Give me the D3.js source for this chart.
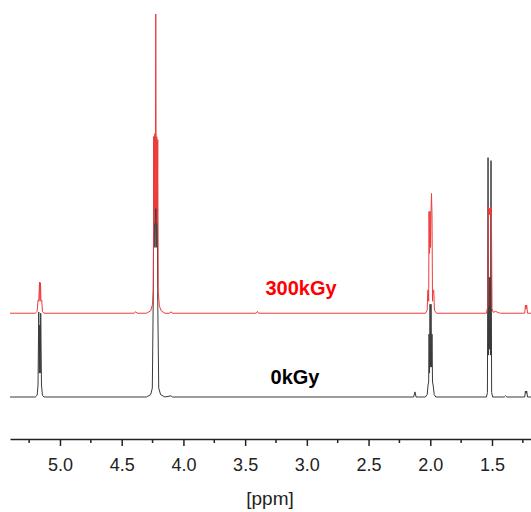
<!DOCTYPE html>
<html>
<head>
<meta charset="utf-8">
<script src="https://cdn.jsdelivr.net/npm/d3@7"></script>
<style>
  body { margin: 0; background: #fff; }
  svg { display: block; font-family: "Liberation Sans", Arial, sans-serif; }
</style>
</head>
<body>
<svg id="chart" width="531" height="512"></svg>
<script>
// spectra as [ppm, intensity] (intensity relative to own baseline)
let black_points = [
    [5.405, 0], [5.20, 0], [5.185, 0.6], [5.178, 4], [5.172, 28.4], [5.168, 8], [5.164, 24],
    [5.160, 8], [5.156, 28], [5.150, 4], [5.142, 0.6], [5.13, 0],
    [4.30, 0], [4.265, 0.8], [4.252, 3], [4.244, 35], [4.238, 87], [4.232, 50], [4.226, 66],
    [4.220, 50], [4.214, 85], [4.208, 32], [4.200, 3], [4.185, 0.8], [4.15, 0],
    [4.10, 0.4], [4.09, 0],
    [2.135, 0], [2.124, 1.7], [2.115, 0],
    [2.04, 0], [2.025, 0.8], [2.018, 4], [2.013, 5], [2.010, 21], [2.006, 8], [2.002, 31],
    [1.998, 10], [1.994, 31], [1.990, 10], [1.986, 21], [1.982, 5], [1.977, 4], [1.968, 0.8], [1.955, 0],
    [1.545, 0], [1.537, 1.5], [1.532, 80], [1.528, 14], [1.524, 40], [1.520, 16], [1.516, 40],
    [1.512, 14], [1.508, 79], [1.503, 1.5], [1.495, 0],
    [1.40, 0], [1.39, 0.4], [1.38, 0],
    [1.235, 0], [1.229, 2], [1.224, 1.2], [1.219, 2], [1.212, 0], [1.184, 0]
];

let red_points = [
    [5.405, 0], [5.20, 0], [5.185, 0.6], [5.178, 4.3], [5.172, 4.0], [5.166, 10.4], [5.162, 4.2],
    [5.158, 10.2], [5.154, 4.0], [5.148, 4.3], [5.142, 0.6], [5.13, 0],
    [4.40, 0], [4.385, 0.5], [4.375, 0],
    [4.30, 0], [4.265, 0.8], [4.250, 3], [4.244, 8], [4.240, 59], [4.236, 30], [4.232, 60],
    [4.228, 35], [4.224, 100], [4.220, 35], [4.216, 59], [4.212, 30], [4.208, 58], [4.204, 7],
    [4.195, 2.5], [4.180, 0.8], [4.15, 0],
    [4.11, 0], [4.10, 0.5], [4.09, 0],
    [3.41, 0], [3.40, 0.6], [3.39, 0],
    [2.04, 0], [2.025, 1], [2.020, 7.7], [2.016, 7.7], [2.013, 4], [2.010, 34], [2.006, 20],
    [2.002, 34], [1.998, 22], [1.994, 34], [1.990, 40], [1.986, 33], [1.982, 4], [1.978, 7.7],
    [1.972, 7.7], [1.966, 1], [1.95, 0],
    [1.545, 0], [1.538, 1.5], [1.533, 2.5], [1.529, 35.5], [1.526, 33], [1.523, 35],
    [1.520, 33], [1.517, 35], [1.514, 33], [1.511, 35], [1.508, 33], [1.505, 35.5],
    [1.500, 1.5], [1.49, 0.3], [1.47, 0.6], [1.45, 0.2], [1.43, 0],
    [1.235, 0], [1.229, 2.7], [1.224, 1.5], [1.219, 2.7], [1.212, 0], [1.184, 0]
];

let trace_offsets = [0, 28];
let trace_colors = ['#3a3a3a', '#ef3b3b'];
let trace_labels = ['0kGy', '300kGy'];
let label_colors = ['#000000', '#ff0000'];
let label_ppm = [3.096, 3.047];

let tick_values = [5.0, 4.5, 4.0, 3.5, 3.0, 2.5, 2.0, 1.5];
let minor_values = [5.25, 4.75, 4.25, 3.75, 3.25, 2.75, 2.25, 1.75, 1.25];
let x_title = '[ppm]';

let svg = d3.select('#chart');

let x_range = d3.scaleLinear()
    .domain([5.405, 1.184])
    .range([10, 531]);

let y_range = d3.scaleLinear()
    .domain([0, 128])
    .range([397, 14]);

let spectra = [black_points, red_points];

spectra.forEach(function (points, i) {
    let line = d3.line()
        .x(function (d) { return x_range(d[0]); })
        .y(function (d) { return y_range(d[1] + trace_offsets[i]); });
    svg.append('path')
        .datum(points)
        .attr('d', line)
        .attr('fill', 'none')
        .attr('stroke', trace_colors[i])
        .attr('stroke-width', 1);
});

// labels above each trace
trace_labels.forEach(function (t, i) {
    svg.append('text')
        .attr('x', x_range(label_ppm[i]))
        .attr('y', y_range(trace_offsets[i]) + (i == 0 ? -13 : -18))
        .attr('text-anchor', 'middle')
        .attr('font-size', 20)
        .attr('font-weight', 'bold')
        .attr('fill', label_colors[i])
        .text(t);
});

// x axis
let axis_y = 439;
let axis = d3.axisBottom(x_range)
    .tickValues(tick_values)
    .tickFormat(d3.format('.1f'))
    .tickSize(7)
    .tickSizeOuter(0)
    .tickPadding(12);

let ax = svg.append('g')
    .attr('transform', 'translate(0,' + axis_y + ')')
    .call(axis);

ax.select('.domain').attr('stroke', '#222').attr('stroke-width', 1.5);
ax.selectAll('.tick line').attr('stroke', '#222').attr('stroke-width', 1.5);
ax.selectAll('.tick text')
    .attr('font-size', 18)
    .attr('font-family', '"Liberation Sans", Arial, sans-serif')
    .attr('fill', '#222');

svg.append('g')
    .attr('transform', 'translate(0,' + axis_y + ')')
    .selectAll('line')
    .data(minor_values)
    .enter().append('line')
    .attr('x1', function (d) { return x_range(d); })
    .attr('x2', function (d) { return x_range(d); })
    .attr('y1', 0)
    .attr('y2', 4)
    .attr('stroke', '#222')
    .attr('stroke-width', 1.5);

svg.append('text')
    .attr('x', 270)
    .attr('y', 505)
    .attr('text-anchor', 'middle')
    .attr('font-size', 19)
    .attr('fill', '#222')
    .text(x_title);
</script>
</body>
</html>
